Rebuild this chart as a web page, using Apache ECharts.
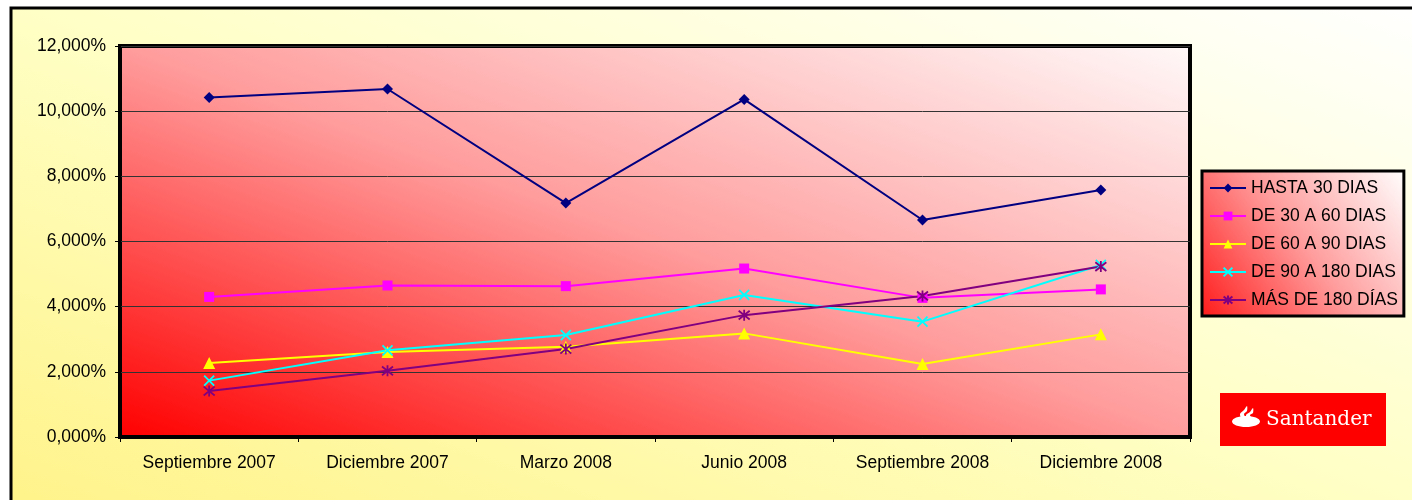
<!DOCTYPE html>
<html>
<head>
<meta charset="utf-8">
<script src="https://cdn.jsdelivr.net/npm/echarts@6/dist/echarts.min.js"></script>
<style>
html,body{margin:0;padding:0;background:#fff;}
#chart{width:1412px;height:500px;}
</style>
</head>
<body>
<div id="chart"></div>
<script>
var categories = ['Septiembre 2007','Diciembre 2007','Marzo 2008','Junio 2008','Septiembre 2008','Diciembre 2008'];
var hasta30 = [10.42, 10.68, 7.18, 10.36, 6.66, 7.58];
var de30a60 = [4.30, 4.65, 4.63, 5.17, 4.27, 4.53];
var de60a90 = [2.27, 2.61, 2.77, 3.18, 2.24, 3.15];
var de90a180 = [1.73, 2.66, 3.13, 4.36, 3.54, 5.28];
var mas180 = [1.41, 2.03, 2.70, 3.74, 4.33, 5.23];
var seriesNames = ['HASTA 30 DIAS','DE 30 A 60 DIAS','DE 60 A 90 DIAS','DE 90 A 180 DIAS','MÁS DE 180 DÍAS'];
var yTicks = {min: 0, max: 12, interval: 2};

var chart = echarts.init(document.getElementById('chart'), null, {renderer: 'canvas'});
var G = echarts.graphic.LinearGradient;
var font = 'Arial, "Liberation Sans", sans-serif';

var xSym = 'path://M0,0L10,10M10,0L0,10';
var starSym = 'path://M0,1L10,9M10,1L0,9M5,0L5,10';

function mk(name, data, color, symbol, size, extra) {
  var s = {
    name: name, type: 'line', data: data, symbol: symbol, symbolSize: size,
    showSymbol: true,
    lineStyle: {color: color, width: 2},
    itemStyle: {color: color},
    emphasis: {disabled: true},
    z: 5
  };
  if (extra) { s.itemStyle = {color: 'rgba(0,0,0,0)', borderColor: color, borderWidth: extra}; }
  return s;
}

chart.setOption({
  animation: false,
  backgroundColor: '#ffffff',
  graphic: [
    {type: 'rect', z: -100, silent: true,
     shape: {x: 11, y: 8, width: 1600, height: 700},
     style: {fill: new G(548, 694, 863, -194, [{offset: 0, color: '#fff38a'}, {offset: 0.5, color: '#ffffc6'}, {offset: 1, color: '#ffffff'}], true), stroke: '#000', lineWidth: 3}},
    {type: 'rect', z: 100, silent: true,
     shape: {x: 1220, y: 393, width: 166, height: 53},
     style: {fill: '#ff0000'}},
    {type: 'ellipse', z: 101, silent: true,
     shape: {cx: 1246, cy: 421.5, rx: 14, ry: 5.5},
     style: {fill: '#ffffff'}},
    {type: 'polygon', z: 101, silent: true,
     shape: {points: [[1242,419],[1240,414],[1244,410],[1247,406],[1247,411],[1244,414],[1246,419]], smooth: 0.3},
     style: {fill: '#ffffff'}},
    {type: 'polygon', z: 101, silent: true,
     shape: {points: [[1248,419],[1246,415],[1250,412],[1253,408],[1253,413],[1250,415],[1252,419]], smooth: 0.3},
     style: {fill: '#ffffff'}},
    {type: 'text', z: 101, silent: true,
     style: {x: 1266, y: 420, text: 'Santander', fill: '#ffffff', font: '20px "DejaVu Serif", "Liberation Serif", serif', verticalAlign: 'middle'}}
  ],
  grid: {
    left: 120, right: 222, top: 46, bottom: 63,
    show: true,
    backgroundColor: new G(529, 586, 781, -103, [{offset: 0, color: '#ff0000'}, {offset: 0.5, color: '#ff9c9c'}, {offset: 1, color: '#fff8f8'}], true),
    borderColor: '#000', borderWidth: 4,
    containLabel: false
  },
  legend: {
    orient: 'vertical',
    left: 1202, top: 171,
    padding: [8, 6, 7, 7],
    itemGap: 10,
    itemWidth: 36, itemHeight: 11,
    backgroundColor: new G(0, 1, 1, 0, [{offset: 0, color: '#ff1a1a'}, {offset: 0.5, color: '#ff9c9c'}, {offset: 1, color: '#ffffff'}]),
    borderColor: '#000', borderWidth: 3,
    textStyle: {fontFamily: font, fontSize: 17.5, color: '#000', lineHeight: 17},
    data: seriesNames
  },
  xAxis: {
    type: 'category', data: categories, boundaryGap: true,
    axisLine: {show: true, lineStyle: {color: '#000', width: 1}},
    axisTick: {show: true, alignWithLabel: false, length: 5, lineStyle: {color: '#000'}},
    axisLabel: {fontFamily: font, fontSize: 17.5, color: '#000', margin: 17, interval: 0},
    splitLine: {show: false}
  },
  yAxis: {
    type: 'value', min: yTicks.min, max: yTicks.max, interval: yTicks.interval,
    axisLine: {show: true, lineStyle: {color: '#000', width: 1}},
    axisTick: {show: true, length: 5, lineStyle: {color: '#000'}},
    axisLabel: {fontFamily: font, fontSize: 17.5, color: '#000', margin: 14,
      formatter: function (v) { return v.toFixed(3).replace('.', ',') + '%'; }},
    splitLine: {show: true, lineStyle: {color: '#333', width: 1}}
  },
  series: [
    mk(seriesNames[0], hasta30, '#000080', 'diamond', 11),
    mk(seriesNames[1], de30a60, '#ff00ff', 'rect', 10),
    mk(seriesNames[2], de60a90, '#ffff00', 'triangle', 12),
    mk(seriesNames[3], de90a180, '#00ffff', xSym, 10, 1.8),
    mk(seriesNames[4], mas180, '#800080', starSym, 11, 1.8)
  ]
});
</script>
</body>
</html>
